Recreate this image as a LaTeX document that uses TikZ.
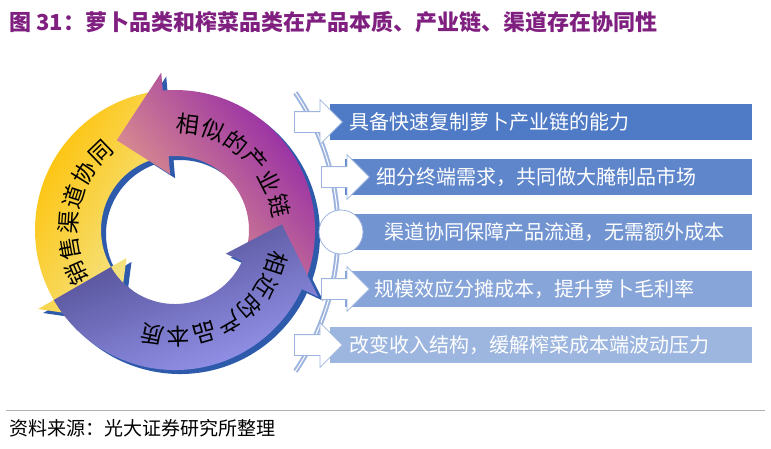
\documentclass[tikz,border=0pt]{standalone}
\usepackage{fontspec}
\setmainfont{Noto Sans CJK SC}
\usetikzlibrary{arrows.meta}
\usetikzlibrary{calc}
\usetikzlibrary{shapes}
\definecolor{titlepurple}{HTML}{7F1F80}
\definecolor{ringblue}{HTML}{2E5AAC}
\definecolor{edgeblue}{HTML}{9DB4DE}
\definecolor{barA}{HTML}{4F7BC6}
\definecolor{barB}{HTML}{5F86CB}
\definecolor{barC}{HTML}{7295D2}
\definecolor{barD}{HTML}{87A5D8}
\definecolor{barE}{HTML}{9DB6DF}
\definecolor{peach}{HTML}{EEAA88}
\definecolor{plum}{HTML}{8A1BAA}
\definecolor{amber}{HTML}{FFC000}
\definecolor{cream}{HTML}{F2EA9C}
\definecolor{lilac}{HTML}{9C9CF6}
\definecolor{dusk}{HTML}{4E4A8E}
\newcommand{\ringarrow}[3]{%
  \path[#3] (#1:140) arc[start angle=#1,end angle=#2,radius=140]
    -- (#2:158) -- ({#2+28}:107) -- (#2:56) -- (#2:74)
    arc[start angle=#2,end angle=#1,radius=74] -- cycle;}
\begin{document}
\begin{tikzpicture}[x=1pt,y=-1pt,
        bar_style/.style={anchor=west,minimum height=36pt,inner sep=0pt,text=white,font=\fontsize{20}{20}\selectfont},
        push_style/.style={single arrow,draw=edgeblue,fill=white,line width=0.8pt,minimum height=48pt,text height=20pt,single arrow head extend=12pt,inner sep=0pt},
        ring_text/.style={inner sep=0pt,font=\fontsize{23}{23}\selectfont}]
    \useasboundingbox (0,0) rectangle (771,448);
    % title and source
    \node [anchor=west,text=titlepurple,font=\fontsize{22}{22}\selectfont\bfseries] (title) at (6,22) {图 31：萝卜品类和榨菜品类在产品本质、产业链、渠道存在协同性};
    \draw [gray!60,line width=0.6pt] (6,410) -- (765,410);
    \node [anchor=west,font=\fontsize{19}{19}\selectfont] (source) at (6,428) {资料来源：光大证券研究所整理};

    % cycle
    \begin{scope}[shift={(175,230)},yscale=-1]
        \ringarrow{95}{210}{fill=ringblue,shift={(5,-4)}}
        \ringarrow{335}{455}{fill=ringblue,shift={(5,-4)}}
        \ringarrow{210}{335}{fill=ringblue,shift={(5,-4)}}
        \ringarrow{95}{210}{left color=amber,right color=cream,shading angle=60}
        \ringarrow{335}{455}{left color=plum,right color=peach,shading angle=-50}
        \ringarrow{210}{335}{left color=dusk,right color=lilac,shading angle=20}
        \foreach \c [count=\i] in {相,似,的,产,业,链}
            \node [ring_text,rotate={97-14*\i-90}] at ({97-14*\i}:107) {\c};
        \foreach \c [count=\i] in {销,售,渠,道,协,同}
            \node [ring_text,rotate={218-14*\i-90}] at ({218-14*\i}:107) {\c};
        \foreach \c [count=\i] in {相,近,的,产,品,本,质}
            \node [ring_text,rotate={-4-14*\i-90}] at ({-4-14*\i}:107) {\c};
    \end{scope}

    % guide arc
    \draw [edgeblue,double=white,line width=2pt,double distance=1pt] (89,232) ++(34:249) arc[start angle=34,end angle=-34,radius=249];

    % bars
    \fill [barA] (330,104) rectangle (752,140);
    \node [bar_style] (b1) at (349,122) {具备快速复制萝卜产业链的能力};
    \fill [barB] (345,159) rectangle (752,195);
    \node [bar_style] (b2) at (376,177) {细分终端需求，共同做大腌制品市场};
    \fill [barC] (350,214) rectangle (752,250);
    \node [bar_style] (b3) at (384,232) {渠道协同保障产品流通，无需额外成本};
    \fill [barD] (345,271) rectangle (752,307);
    \node [bar_style] (b4) at (374,289) {规模效应分摊成本，提升萝卜毛利率};
    \fill [barE] (330,327) rectangle (752,363);
    \node [bar_style] (b5) at (349,345) {改变收入结构，缓解榨菜成本端波动压力};

    % pointers
    \node [push_style,anchor=tail] (p1) at (294,122) {};
    \node [push_style,anchor=tail] (p2) at (321,177) {};
    \node [circle,draw=edgeblue,fill=white,line width=0.8pt,minimum size=44pt] (p3) at (341,232) {};
    \node [push_style,anchor=tail] (p4) at (321,289) {};
    \node [push_style,anchor=tail] (p5) at (294,345) {};
\end{tikzpicture}
\end{document}
